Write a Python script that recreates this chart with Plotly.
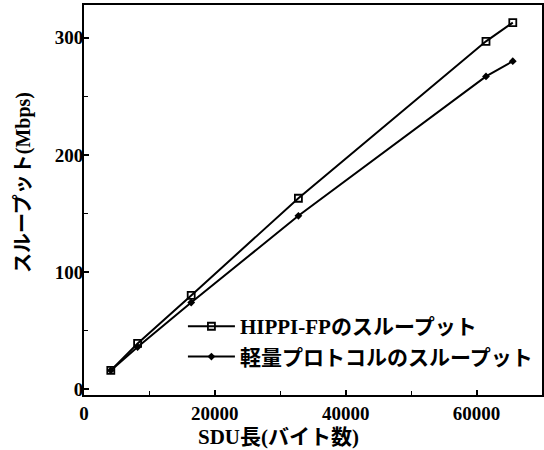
import plotly.graph_objects as go

sdu_bytes = [4096, 8192, 16384, 32768, 61440, 65536]
hippi_fp_mbps = [16, 39, 80, 163, 297, 313]
light_proto_mbps = [16, 36, 74, 148, 267, 280]

series_names = ["HIPPI-FPのスループット", "軽量プロトコルのスループット"]
x_title = "SDU長(バイト数)"
y_title = "スループット(Mbps)"
x_ticks = [0, 20000, 40000, 60000]
x_tick_text = ["0", "20000", "40000", "60000"]
y_ticks = [0, 100, 200, 300]

FONT = "Liberation Serif, Noto Sans CJK JP, serif"

fig = go.Figure()
fig.add_trace(go.Scatter(
    x=sdu_bytes, y=hippi_fp_mbps, name=series_names[0], mode="lines+markers",
    line=dict(color="black", width=2),
    marker=dict(symbol="square-open", size=7, color="black", line=dict(width=1.8)),
))
fig.add_trace(go.Scatter(
    x=sdu_bytes, y=light_proto_mbps, name=series_names[1], mode="lines+markers",
    line=dict(color="black", width=2),
    marker=dict(symbol="diamond", size=6, color="black"),
))

axis_common = dict(
    showline=True, linecolor="black", linewidth=2, mirror=True,
    showgrid=False, zeroline=False, automargin=False,
    tickfont=dict(family=FONT, size=19, color="black", weight="bold"),
    tickcolor="black", tickwidth=1.5,
)

fig.update_xaxes(
    **axis_common, range=[0, 70000], tickvals=x_ticks, ticktext=x_tick_text,
    ticks="inside", ticklen=5,
    minor=dict(dtick=10000, ticks="inside", ticklen=4, tickcolor="black", tickwidth=1.2),
)
fig.update_yaxes(
    **axis_common, range=[-5, 328], tickvals=y_ticks,
    ticks="inside", ticklen=5, ticklabelstandoff=-5,
    minor=dict(dtick=50, ticks="inside", ticklen=4, tickcolor="black", tickwidth=1.2),
)

fig.add_annotation(
    text=x_title, xref="paper", yref="paper", x=(278 - 84) / 458, y=-(437 - 395) / 390,
    xanchor="center", yanchor="middle", showarrow=False,
    font=dict(family=FONT, size=21, color="black", weight="bold"),
)
fig.add_annotation(
    text=y_title, xref="paper", yref="paper", x=-(84 - 23) / 458, y=(395 - 183) / 390,
    xanchor="center", yanchor="middle", showarrow=False, textangle=-90,
    font=dict(family=FONT, size=20, color="black", weight="bold"),
)

fig.update_layout(
    width=544, height=450,
    margin=dict(l=84, r=2, t=5, b=55),
    paper_bgcolor="white", plot_bgcolor="white",
    showlegend=True,
    legend=dict(
        x=0.216, y=0.228, xanchor="left", yanchor="top",
        bgcolor="rgba(255,255,255,0)", borderwidth=0,
        font=dict(family=FONT, size=21, color="black", weight="bold"),
        itemwidth=47, tracegroupgap=0,
    ),
)

fig.write_html(
    "out.html",
    config={"displayModeBar": False},
    post_script="document.body.style.margin='0';document.body.style.overflow='hidden';",
)
